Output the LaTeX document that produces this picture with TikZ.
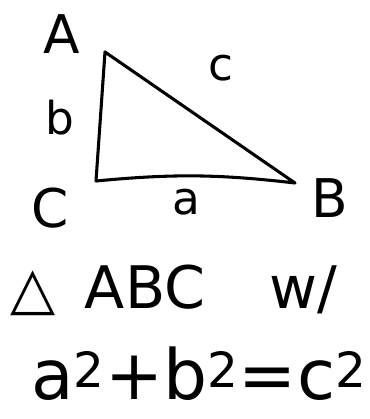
\documentclass[tikz,border=0pt]{standalone}
\usepackage{fontspec}
\setmainfont{DejaVu Sans}
\usepackage{tikz}

\begin{document}
\begin{tikzpicture}[
    x=0.75pt, y=-0.75pt,
    pen/.style={line width=2.3pt, line cap=round, line join=round},
    vlabel/.style={inner sep=0pt, font=\fontsize{40}{44}\selectfont},
    slabel/.style={inner sep=0pt, font=\fontsize{34}{38}\selectfont},
    note/.style={inner sep=0pt, font=\fontsize{44}{50}\selectfont}
]
    \useasboundingbox[fill=white] (0,0) rectangle (370,419);

    % Triangle corners
    \coordinate (vertA) at (105,52);
    \coordinate (vertB) at (295,183);
    \coordinate (vertC) at (96,181);

    % Triangle
    \draw[pen] (vertA) -- (vertC) to[bend left=6] (vertB) -- cycle;

    % Corner labels
    \node[vlabel] (labA) at (62,34) {A};
    \node[vlabel] (labB) at (330,198) {B};
    \node[vlabel] (labC) at (50,208) {C};

    % Side labels
    \node[slabel] (labc) at (221,68) {c};
    \node[slabel] (labb) at (60,118) {b};
    \node[slabel] (laba) at (186,202) {a};

    % Notes
    \node[note] (line1) at (174,290) {△\hspace{0.5em}ABC\hspace{1.1em}w/};
    \node[note, font=\fontsize{52}{58}\selectfont] (line2) at (199,374) {a\textsuperscript{2}+b\textsuperscript{2}=c\textsuperscript{2}};
\end{tikzpicture}
\end{document}
